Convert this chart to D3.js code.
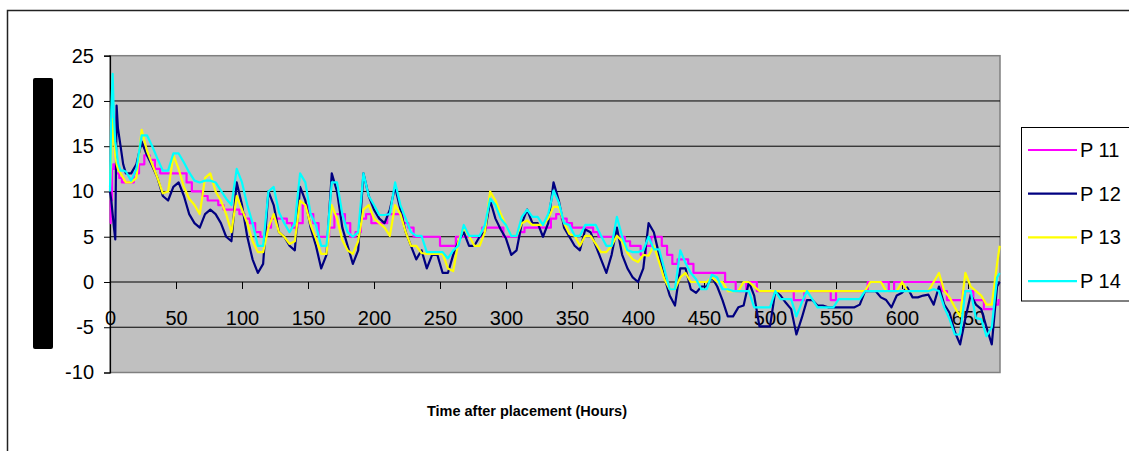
<!DOCTYPE html>
<html><head><meta charset="utf-8">
<script src="https://cdn.jsdelivr.net/npm/d3@7"></script>
<style>
body{margin:0;background:#fff}
svg{display:block;font-family:Arial,"Liberation Sans",sans-serif}
</style></head><body>
<svg id="chart" width="1129" height="451"></svg>
<script>
// Sampling times (hours after placement)
const hours = [0,1,2,3,4,5,6,8,10,12,
  16,20,24,28,32,36,40,44,48,52,
  56,60,64,68,72,76,80,84,88,92,
  96,100,104,108,112,116,120,124,128,132,
  136,140,144,148,152,156,160,164,168,172,
  176,180,184,188,192,196,200,204,208,212,
  216,220,224,228,232,236,240,244,248,252,
  256,260,264,268,272,276,280,284,288,292,
  296,300,304,308,312,316,320,324,328,332,
  336,340,344,348,352,356,360,364,368,372,
  376,380,384,388,392,396,400,404,408,412,
  416,420,424,428,432,436,440,444,448,452,
  456,460,464,468,472,476,480,484,488,492,
  496,500,504,508,512,516,520,524,528,532,
  536,540,544,548,552,556,560,564,568,572,
  576,580,584,588,592,596,600,604,608,612,
  616,620,624,628,632,636,640,644,648,652,
  656,660,664,668,672,674];

const p11 = [6.5,9,12.5,13,12.5,12,12,11.5,11,11,
  11,12,13,14,13.5,12.5,12,12,12,12,
  12,11,10,10,9.5,9,9,8.5,8,8,
  8,7.5,7,6.5,5.5,5,6,7,7,7,
  6.5,6,6.5,8.5,7.5,6.5,5,5,6,7.5,
  7.5,6.5,5,5.5,7,7.5,6.5,6.5,6.5,7.5,
  7.5,7.5,6.5,6,5,5,5,5,5,4,
  4,4,5,5,5,5,5,6,6,6,
  6,5,5,5,5.5,6,6,6,6,6,
  7,7.5,7,6.5,6,6,6,6,5.5,5,
  5,5,5,5,4.5,4,4,3,4,5,
  5,4,3,2,2.5,2.5,2,1,1,1,
  1,1,1,0,0,-1,-1,0,0,-1,
  -1,-1,-1,-1,-1,-1,-2,-2,-1,-1,
  -1,-1,-1,-2,-1,-1,-1,-1,-1,-1,
  0,0,0,0,-1,0,0,0,0,0,
  0,0,0,0,-1,-2,-2,-2,-1,-1,
  -2,-2,-3,-3,-2.5,-2];

const p12 = [10,9,7.5,6,4.7,19.5,17,15,13,12,
  12,13,15.5,14,12.8,11.5,9.5,9,10.5,11,
  9.5,7.5,6.5,6,7.5,8,7.5,6.5,5,4.5,
  11,8.5,5,2.5,1,2,10,8.5,5.5,5,
  4,3.5,10.5,9,6,4,1.5,3,12,10,
  6,4,2,3.5,12,9.5,8,7,6.5,8,
  10.5,8,5.5,4,2.5,3.5,1.5,3,3,1,
  1,3,4.5,5.5,4,4,5,5.5,9,7,
  5.8,4.8,3,3.5,6.5,8,6.5,6.5,5,6.5,
  11,9,6,5,4,3.5,5.8,5.5,4,2.5,
  1,3,6,3,1.5,0.5,0,1.5,6.5,5.5,
  3,0.5,-1.5,-2.6,1.5,1.5,-0.8,-1.2,-0.5,-0.5,
  0.5,-0.5,-2,-3.8,-3.8,-2.8,-2.6,0,-1.5,-4.9,
  -4.9,-4.9,-1,-1.5,-2.3,-3,-5.8,-4,-2,-2,
  -2.6,-2.6,-2.8,-2.8,-2.8,-2.8,-2.8,-2.8,-2.5,-1,
  -1,-1,-1.7,-2,-2.8,-1.5,-1.2,-0.6,-1.7,-1.7,
  -1.5,-1.4,-2.5,-0.5,-2.5,-3.4,-5.5,-6.9,-4,-1.4,
  -2.5,-3,-5,-6.9,-0.5,0];

const p13 = [10.5,14,18,16,14,13,12.5,12,11.5,11,
  11,11.5,16.8,14.5,13,11.5,9.8,10,14,12.5,
  10.5,9.2,8.5,7.5,11.5,12,10,9,7.5,5.5,
  9.5,8,6.5,4.5,3.3,3.3,6,7.5,5.5,5,
  4.2,4.5,9,8.5,6.3,4.8,3.1,3.1,8.5,7,
  4.6,3.5,3.1,4.5,8,8.5,7,6.5,6,5.1,
  8.5,7.5,5.5,4,4,3.2,3.1,3.1,3.1,3.1,
  1.5,1.2,4.5,6,5.1,4,4,5.5,10,9,
  7.5,6.3,5.1,5.1,6.5,6.8,6.3,6.3,6.3,7,
  8.3,8.3,6.5,5.3,5.1,4,5.1,5.1,4.2,3.3,
  3.3,4,5.1,4.5,3.2,2.5,2.2,3,2.9,4,
  2.2,0.3,-0.8,-0.8,0.5,1,0,0,0,0,
  0.5,0,0,-1,-1,-1,0,0,-0.5,-1,
  -1,-1,-1,-1,-1,-1,-1,-1,-1,-1,
  -1,-1,-1,-1,-1,-1,-1,-1,-1,-1,
  0,0,0,-1,-1,-1,0,-1,-1,-1,
  -1,-1,0,1,-1,-1.7,-2.8,-3.8,1,-0.5,
  -1,-1.5,-2.5,-2.5,2,4];

const p14 = [10,19,23,18,15.5,14.5,13.2,12.3,12.3,12.2,
  11.2,12.5,16.2,16.2,15,13.6,12.3,12.3,14.2,14.2,
  13.2,12.1,11.2,11,11.2,11.2,11,10.1,9.2,8.5,
  12.5,11,8.5,6.5,4,4,10,10.5,7.7,6.5,
  5.5,6.5,12,11,7.5,6.3,4,4,11,11,
  7.5,5.5,5,5.5,12,9.5,8.5,7.4,7.4,7.5,
  11,8.5,7,5.5,5.1,5.1,3.3,3.3,3.3,3.3,
  2.6,3.5,4,6.3,5.1,5.1,5.1,6.3,9.2,8.5,
  7,6.3,5.1,5.1,7.2,8,7.2,7.2,6.3,7.5,
  10.1,8.8,6.5,6.3,5.1,5.1,6.3,6.3,6.3,5.1,
  4,4,7.2,5,3.5,3.3,3.3,3.5,5,3.6,
  3.6,1.4,-0.8,-0.8,3.5,2.1,1,0.3,-0.8,-0.8,
  0.8,0.5,-0.8,-0.8,-1,-1,-1,-1,-2.8,-2.8,
  -2.8,-2.8,-1,-1.9,-1.9,-1.9,-3.8,-2.3,-1,-1.9,
  -2.8,-2.8,-2.8,-2.8,-1.9,-1.9,-1.9,-1.9,-1.9,-1,
  -1,-1,-1,-1,-1,-1,-1,-1,-1,-1,
  -1,-1,-0.8,-1,-2.8,-4.1,-5.8,-5.8,-1,-1,
  -4,-4.1,-6,-5,0.5,1];

const seriesNames = ["P 11", "P 12", "P 13", "P 14"];
const seriesValues = [p11, p12, p13, p14];
const seriesColors = ["#FF00FF", "#000080", "#FFFF00", "#00FFFF"];
const yTicks = [-10, -5, 0, 5, 10, 15, 20, 25];
const xTicks = [0, 50, 100, 150, 200, 250, 300, 350, 400, 450, 500, 550, 600, 650];
const xTitle = "Time after placement (Hours)";

const svg = d3.select("#chart");
const plot = {left: 110, right: 1000, top: 55.7, bottom: 372.5};

const x = d3.scaleLinear().domain([0, 674]).range([plot.left, 999.7]);
const y = d3.scaleLinear().domain([-10, 25]).range([plot.bottom, plot.top]);
const plainNumber = d => String(d);

// Chart-area frame (top and left edges)
svg.append("path")
  .attr("d", "M7.5,451 V10.5 H1129")
  .attr("fill", "none").attr("stroke", "#222").attr("stroke-width", 1.5);

// Plot area
svg.append("rect")
  .attr("x", plot.left).attr("y", plot.top)
  .attr("width", plot.right - plot.left).attr("height", plot.bottom - plot.top)
  .attr("fill", "#C0C0C0").attr("stroke", "#808080").attr("stroke-width", 1.5);

// Horizontal gridlines
svg.append("g").selectAll("line")
  .data(yTicks.filter(v => v !== 0 && v !== 25 && v !== -10))
  .join("line")
  .attr("x1", plot.left).attr("x2", plot.right)
  .attr("y1", d => y(d)).attr("y2", d => y(d))
  .attr("stroke", "#000").attr("stroke-width", 1);

// Y axis
const yAxis = svg.append("g")
  .attr("transform", `translate(${plot.left},0)`)
  .call(d3.axisLeft(y).tickValues(yTicks).tickSize(6).tickPadding(10).tickFormat(plainNumber));
yAxis.select(".domain").attr("stroke", "#000").attr("stroke-width", 1.2);
yAxis.selectAll(".tick line").attr("stroke", "#000");
yAxis.selectAll("text").attr("font-size", 20).attr("fill", "#000")
  .attr("font-family", "Arial, 'Liberation Sans', sans-serif");

// X axis crossing at zero
const xAxis = svg.append("g")
  .attr("transform", `translate(0,${y(0)})`)
  .call(d3.axisBottom(x).tickValues(xTicks).tickSize(7).tickPadding(22).tickFormat(plainNumber));
xAxis.select(".domain").remove();
xAxis.append("line")
  .attr("x1", plot.left).attr("x2", plot.right).attr("y1", 0).attr("y2", 0)
  .attr("stroke", "#000").attr("stroke-width", 1.2);
xAxis.selectAll(".tick line").attr("stroke", "#000");
xAxis.selectAll("text").attr("font-size", 20).attr("fill", "#000")
  .attr("font-family", "Arial, 'Liberation Sans', sans-serif");

// Series lines (P 11 readings are drawn as a staircase)
const seriesCurves = [d3.curveStep, d3.curveLinear, d3.curveLinear, d3.curveLinear];
svg.append("g").selectAll("path")
  .data(seriesValues)
  .join("path")
  .attr("d", (d, i) => d3.line()
    .x((v, j) => x(hours[j]))
    .y(v => y(v))
    .curve(seriesCurves[i])(d))
  .attr("fill", "none")
  .attr("stroke", (d, i) => seriesColors[i])
  .attr("stroke-width", 2.2)
  .attr("stroke-linejoin", "round");

// Y-axis title block
svg.append("rect")
  .attr("x", 33).attr("y", 78).attr("width", 20).attr("height", 271)
  .attr("rx", 2).attr("fill", "#000");

// X-axis title
svg.append("text")
  .attr("x", 527).attr("y", 416)
  .attr("text-anchor", "middle")
  .attr("font-size", 14).attr("font-weight", "bold")
  .attr("textLength", 200).attr("lengthAdjust", "spacingAndGlyphs")
  .text(xTitle);

// Legend
const legend = svg.append("g");
legend.append("rect")
  .attr("x", 1021.5).attr("y", 127.5).attr("width", 130).attr("height", 173.5)
  .attr("fill", "#fff").attr("stroke", "#000").attr("stroke-width", 1);
const item = legend.selectAll("g.item")
  .data(seriesNames)
  .join("g").attr("class", "item")
  .attr("transform", (d, i) => `translate(0,${150 + i * 43.7})`);
item.append("line")
  .attr("x1", 1028).attr("x2", 1077).attr("y1", 0).attr("y2", 0)
  .attr("stroke", (d, i) => seriesColors[i]).attr("stroke-width", 2.2);
item.append("text")
  .attr("x", 1080).attr("y", 7)
  .attr("font-size", 20).attr("fill", "#000")
  .text(d => d);
</script>
</body></html>
